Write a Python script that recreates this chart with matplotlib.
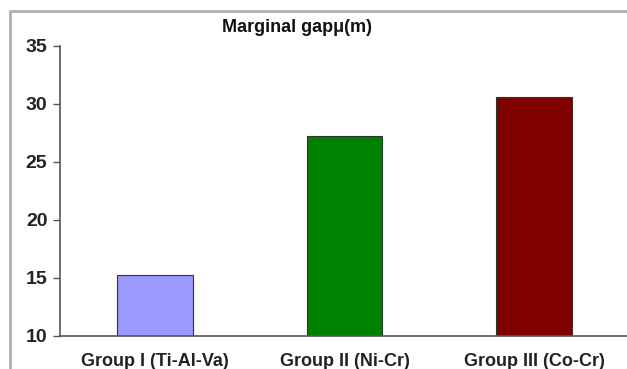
import matplotlib.pyplot as plt
from matplotlib.patches import Rectangle

# data
groups = ["Group I (Ti-Al-Va)", "Group II (Ni-Cr)", "Group III (Co-Cr)"]
gap = [15.3, 27.2, 30.6]
colors = ["#9999ff", "#008000", "#800000"]
yticks = [10, 15, 20, 25, 30, 35]

plt.rcParams["font.family"] = ["Liberation Sans", "DejaVu Sans"]

fig = plt.figure(figsize=(6.27, 3.69), dpi=100)
ax = fig.add_axes([60 / 627, 1 - 336 / 369, 569 / 627, 290 / 369])

x = range(len(groups))
ax.bar(x, [g - 10 for g in gap], bottom=10, width=0.4, color=colors,
       edgecolor="#333333", linewidth=0.8)

ax.set_xlim(-0.5, 2.5)
ax.set_ylim(10, 35)
ax.set_yticks(yticks)
ax.set_yticklabels([str(t) for t in yticks], fontsize=14, fontweight="bold",
                   color="#222222")
ax.set_xticks(list(x))
ax.set_xticklabels(groups, fontsize=13, fontweight="bold", color="#222222")
ax.tick_params(axis="x", length=0, pad=12)
ax.tick_params(axis="y", length=5, width=1, color="#555555", pad=4)

for s in ["top", "right"]:
    ax.spines[s].set_visible(False)
for s in ["left", "bottom"]:
    ax.spines[s].set_color("#555555")
    ax.spines[s].set_linewidth(1.2)

fig.text(297 / 627, 1 - 28 / 369, "Marginal gapμ(m)", ha="center", va="center",
         fontsize=13, fontweight="bold", color="#111111")

# light gray frame around the whole picture
fig.patches.append(Rectangle((10 / 627, -0.1), 1.2, 1 - 11 / 369 + 0.1,
                             transform=fig.transFigure, fill=False,
                             edgecolor="#b0b0b0", linewidth=2))

fig.savefig("out.png", dpi=100)
